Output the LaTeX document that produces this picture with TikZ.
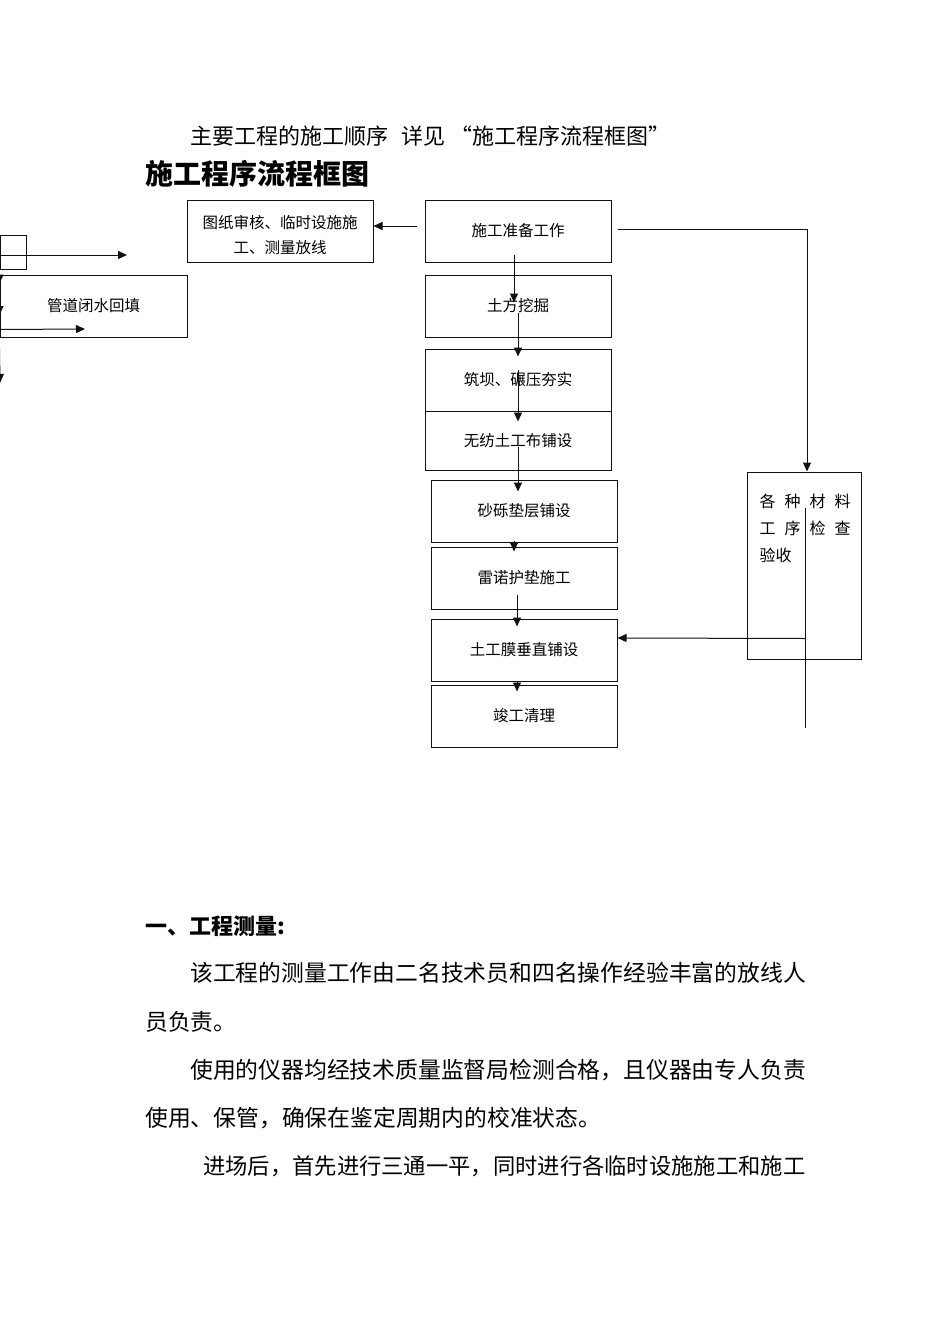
\documentclass[tikz,border=0pt]{standalone}
\usepackage{fontspec}
\setmainfont{Noto Sans CJK SC}
\usepackage{tikz}
\usetikzlibrary{calc,positioning,arrows.meta}
\definecolor{flowink}{HTML}{111111}
\newcommand\ckgap{\hspace{9pt}}

\tikzset{
  stepbox/.style={draw=flowink, line width=1pt, minimum width=186pt, minimum height=62pt,
    inner sep=0pt, align=center, font=\fontsize{15.5}{25}\selectfont},
  flowarrow/.style={draw=flowink, line width=1pt, -{Triangle[length=9pt,width=8pt]}},
  flowline/.style={draw=flowink, line width=1pt},
  bodytext/.style={anchor=west, inner sep=0pt, font=\fontsize{22.8}{24}\selectfont},
}

\begin{document}
\begin{tikzpicture}[x=1pt,y=-1pt]
  \useasboundingbox (0,0) rectangle (950,1344);
  % heading lines
  \node[anchor=west, inner sep=0pt, font=\fontsize{22}{24}\selectfont] (intro) at (190,136)
    {主要工程的施工顺序\hspace{13pt}详见\hspace{5pt}“施工程序流程框图”};
  \node[anchor=west, inner sep=0pt, font=\fontsize{28}{30}\selectfont\bfseries] (title) at (145,174)
    {施工程序流程框图};

  % flow boxes
  \node[stepbox] (prep) at (518,231) {施工准备工作};
  \node[stepbox, text height=46pt] (plan) at (280,231) {图纸审核、临时设施施\\工、测量放线};
  \node[stepbox] (dig) at (518,306) {土方挖掘};
  \node[stepbox] (dam) at (518,380) {筑坝、碾压夯实};
  \node[stepbox, minimum height=59pt] (cloth) at (518,440.5) {无纺土工布铺设};
  \node[stepbox] (gravel) at (524,511) {砂砾垫层铺设};
  \node[stepbox] (reno) at (524,578) {雷诺护垫施工};
  \node[stepbox] (membrane) at (524,650) {土工膜垂直铺设};
  \node[stepbox] (finish) at (524,716) {竣工清理};
  \node[stepbox, minimum width=114pt, minimum height=187pt] (check) at (804,565.5) {};
  \node[anchor=north west, inner sep=0pt, align=left, font=\fontsize{16}{27}\selectfont]
    (checktext) at ($(check.north west)+(13,22)$)
    {各\ckgap 种\ckgap 材\ckgap 料\\工\ckgap 序\ckgap 检\ckgap 查\\验收};

  % cut-off part on the left
  \node[stepbox, minimum width=26pt, minimum height=34pt] (tiny) at (13,252) {};
  \node[stepbox, minimum width=187pt] (backfill) at (93.5,306) {管道闭水回填};
  \coordinate (tinyend) at (127,255);
  \coordinate (fillend) at (85,329);
  \coordinate (downend) at (0,383);

  % main chain
  \draw[flowarrow] ($(prep.south)+(-4,-8)$) -- ($(dig.north)+(-4,28)$);
  \draw[flowarrow] ($(dig.center)+(0,7)$) -- ($(dam.north)+(0,8)$);
  \draw[flowarrow] ($(dam.center)+(0,-10)$) -- ($(cloth.north)+(0,11)$);
  \draw[flowarrow] ($(cloth.center)+(0,6.5)$) -- ($(gravel.north)+(-6,12)$);
  \draw[flowarrow] ($(gravel.south)+(-10,-2)$) -- ($(reno.north)+(-10,5)$);
  \draw[flowarrow] ($(reno.center)+(-7,17)$) -- ($(membrane.north)+(-7,8)$);
  \draw[flowarrow] ($(membrane.south)+(-7,0)$) -- ($(finish.north)+(-7,7)$);

  % side branches
  \draw[flowarrow] ($(prep.west)+(-8,-5)$) -- ($(plan.east)+(0,-5)$);
  \draw[flowarrow] ($(prep.east)+(6,-2)$) -| ($(check.north)+(3,0)$);
  \draw[flowline] ($(check.north)+(1,36)$) -- ($(check.south)+(1,68)$);
  \draw[flowarrow] ($(check.south)+(1,-21)$) -- ($(membrane.east)+(0,-12)$);

  \draw[flowarrow] ($(tiny.west)+(0,3)$) -- (tinyend);
  \draw[flowarrow] (tiny.south west) -- ($(backfill.north west)+(0,9)$);
  \draw[flowarrow] ($(backfill.north west)+(0,14)$) -- ($(backfill.west)+(0,9)$);
  \draw[flowarrow] ($(backfill.south west)+(0,-8)$) -- (fillend);
  \draw[flowarrow] ($(backfill.south west)+(0,11)$) -- (downend);

  % text below
  \node[anchor=west, inner sep=0pt, font=\fontsize{22}{24}\selectfont\bfseries] (sect) at (145,926)
    {一、工程测量:};
  \node[bodytext] (line1) at (190,973) {该工程的测量工作由二名技术员和四名操作经验丰富的放线人};
  \node[bodytext] (line2) at (145,1022) {员负责。};
  \node[bodytext] (line3) at (190,1070) {使用的仪器均经技术质量监督局检测合格，且仪器由专人负责};
  \node[bodytext] (line4) at (145,1118) {使用、保管，确保在鉴定周期内的校准状态。};
  \node[bodytext, font=\fontsize{22.3}{24}\selectfont] (line5) at (203,1166)
    {进场后，首先进行三通一平，同时进行各临时设施施工和施工};
\end{tikzpicture}
\end{document}
